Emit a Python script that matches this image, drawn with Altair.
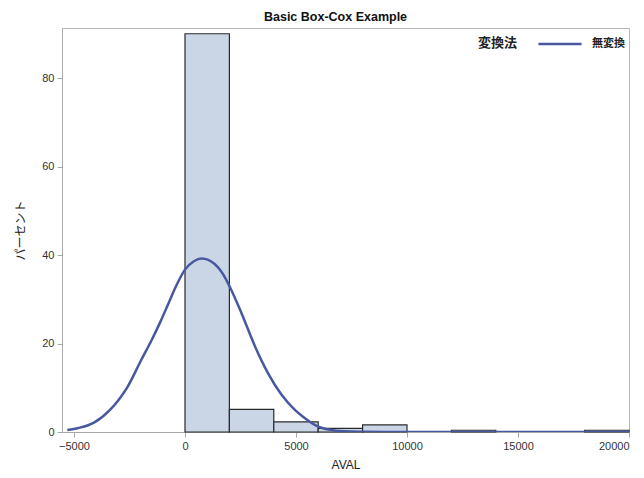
import altair as alt
import pandas as pd

# Histogram bins (AVAL) and percent heights
bin_start = [0, 2000, 4000, 6000, 8000, 10000, 12000, 14000, 16000, 18000]
bin_end = [2000, 4000, 6000, 8000, 10000, 12000, 14000, 16000, 18000, 20000]
percent = [90.0, 5.1, 2.3, 0.8, 1.6, 0.0, 0.4, 0.0, 0.0, 0.4]

# Fitted density curve
curve_x = [-5300, -4800, -4100, -3400, -3000, -2600, -2000, -1500, -1100, -750,
           -400, 0, 400, 750, 1350, 1700, 2000, 2550, 3150, 3750, 4350, 4950,
           5330, 5930, 6530, 7200, 8000, 9000, 12000, 16000, 20000]
curve_y = [0.45, 0.9, 2.1, 4.9, 7.2, 10.1, 16.0, 20.8, 25.0, 29.0,
           33.0, 36.7, 38.6, 39.2, 37.9, 35.8, 33.0, 26.8, 19.4, 13.2, 8.4, 5.0,
           3.4, 1.4, 0.5, 0.15, 0.05, 0.01, 0.0, 0.0, 0.0]
series_name = "無変換"
legend_title = "変換法"

x_ticks = [-5000, 0, 5000, 10000, 15000, 20000]
y_ticks = [0, 20, 40, 60, 80]

FONT = "Liberation Sans, Arial, Noto Sans CJK JP"

bars_df = pd.DataFrame({"start": bin_start, "end": bin_end, "pct": percent})
curve_df = pd.DataFrame({"x": curve_x, "y": curve_y, "s": [series_name] * len(curve_x)})

xscale = alt.Scale(domain=[-5540, 20000], nice=False, zero=False)
yscale = alt.Scale(domain=[0, 91.3], nice=False)

bars = alt.Chart(bars_df).transform_filter("datum.pct > 0").mark_rect(
    fill="#CAD6E6", stroke="#2b2b2b", strokeWidth=1.2
).encode(
    x=alt.X("start:Q", scale=xscale,
            axis=alt.Axis(values=x_ticks, title="AVAL", format="d")),
    x2="end:Q",
    y=alt.Y("pct:Q", scale=yscale,
            axis=alt.Axis(values=y_ticks, title="パーセント")),
    y2=alt.datum(0),
)

line = alt.Chart(curve_df).mark_line(
    strokeWidth=2.5, interpolate="monotone", clip=True
).encode(
    x=alt.X("x:Q", scale=xscale),
    y=alt.Y("y:Q", scale=yscale),
    color=alt.Color("s:N", scale=alt.Scale(range=["#4758A0"]),
                    legend=alt.Legend(
                        title=legend_title, orient="none",
                        legendX=416, legendY=9,
                        direction="horizontal", titleOrient="left",
                        titleAnchor="middle", titleBaseline="middle",
                        symbolType="M-4,0H4", symbolSize=116,
                        symbolStrokeWidth=2.5, symbolFillColor="transparent",
                        symbolStrokeColor="#4758A0",
                        titleFontSize=13, titleFontWeight="bold",
                        titleColor="#222", titlePadding=35,
                        labelFontSize=11, labelFontWeight="bold",
                        labelColor="#222", labelOffset=25,
                    )),
)

chart = alt.layer(bars, line).properties(
    width=567, height=404,
    padding={"left": 62, "top": 28, "right": 15, "bottom": 46},
    autosize=alt.AutoSizeParams(type="none"),
    title=alt.Title("Basic Box-Cox Example", fontSize=12.5, fontWeight="bold",
                    color="#111", offset=5, dx=-10, font=FONT),
).configure_view(
    stroke="#b8b8b8", strokeWidth=1
).configure_axis(
    labelFont=FONT, titleFont=FONT, labelFontSize=11, titleFontSize=12,
    labelColor="#333", titleColor="#222", titleFontWeight="normal",
    domainColor="#a8a8a8", tickColor="#a8a8a8", tickSize=5, grid=False,
    labelPadding=3,
).configure_axisX(
    titlePadding=8
).configure_axisY(
    titlePadding=14
).configure_legend(
    labelFont=FONT, titleFont=FONT
)

chart.save("out.html", embed_options={"renderer": "svg", "actions": False})
